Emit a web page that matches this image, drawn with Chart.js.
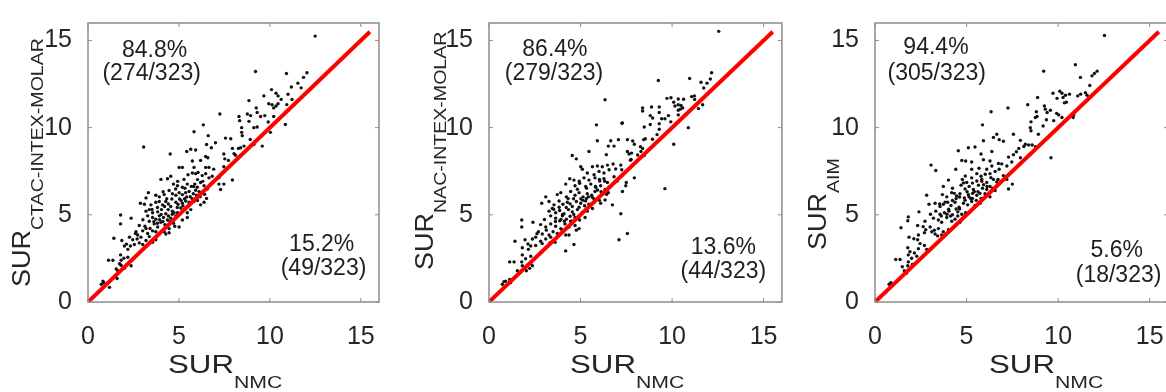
<!DOCTYPE html>
<html>
<head>
<meta charset="utf-8">
<script src="https://cdn.jsdelivr.net/npm/chart.js@4.4.1/dist/chart.umd.min.js"></script>
<style>
  body { margin: 0; background: #fff; width: 1166px; height: 392px; overflow: hidden; position: relative; }
  canvas { position: absolute; top: 0; }
</style>
</head>
<body>
<canvas id="c1" width="390" height="392" style="left:0px"></canvas>
<canvas id="c2" width="395" height="392" style="left:395px"></canvas>
<canvas id="c3" width="400" height="392" style="left:780px"></canvas>
<script>
// axes (SUR values), shared by the three panels
const axisMin = 0
const axisMax = 16
const tickValues = [0, 5, 10, 15]
const identityLine = [0, 15.5]

// SUR_CTAC-INTEX-MOLAR vs SUR_NMC  [x, y]
const ctacPoints = [
  [0.73,1.02],[0.82,1.20],[0.87,1.11],[1.18,0.84],[1.49,1.48],[1.60,1.35],[1.55,1.89],[1.64,1.79],[2.00,1.93],
  [1.13,2.39],[1.37,2.39],[1.73,2.20],[1.82,2.11],[2.15,2.15],[2.37,2.08],[1.79,2.70],[1.97,2.51],[2.19,2.57],
  [1.82,2.39],[2.00,3.21],[2.19,3.02],[2.33,3.21],[2.55,3.30],[2.82,3.39],[3.01,3.30],[3.55,3.42],[1.42,3.66],
  [1.86,3.53],[2.28,3.72],[2.46,3.57],[2.70,3.61],[2.91,3.72],[3.19,3.53],[3.37,3.75],[3.55,3.48],[3.73,3.57],
  [4.28,3.90],[2.64,4.03],[2.73,3.84],[3.01,4.08],[3.19,4.21],[3.28,3.93],[3.55,4.08],[3.73,4.03],[3.92,3.90],
  [4.19,4.03],[4.46,3.97],[1.79,4.99],[1.79,4.48],[2.37,4.81],[2.82,4.39],[3.13,4.34],[3.37,4.63],[3.64,4.48],
  [3.83,4.30],[4.01,4.57],[4.23,4.44],[4.46,4.21],[4.77,4.34],[5.01,4.30],[3.28,4.94],[3.55,4.85],[3.73,4.75],
  [3.92,4.94],[4.15,4.85],[4.37,4.70],[4.55,4.81],[4.70,4.52],[4.83,4.94],[5.19,4.70],[5.46,4.85],[3.19,5.21],
  [3.37,5.30],[3.55,5.12],[3.83,5.17],[4.04,5.30],[4.28,5.06],[4.41,5.30],[4.64,5.21],[4.92,5.12],[5.10,5.39],
  [5.46,5.12],[5.65,5.30],[2.88,5.66],[3.10,5.61],[3.46,5.57],[3.73,5.72],[3.92,5.76],[4.10,5.57],[4.28,5.76],
  [4.55,5.48],[4.83,5.72],[4.95,5.61],[5.19,5.66],[5.37,5.79],[5.56,5.72],[5.83,5.76],[6.19,5.57],[6.38,5.72],
  [3.32,6.27],[3.19,5.97],[3.73,6.12],[3.92,6.03],[4.19,6.16],[4.46,6.39],[4.64,6.21],[4.83,6.12],[5.01,6.27],
  [5.19,6.16],[5.37,6.27],[5.56,6.34],[5.79,6.21],[5.97,6.12],[6.16,6.03],[6.28,6.30],[6.52,5.94],[4.70,6.76],
  [4.92,6.67],[5.19,6.58],[5.46,6.76],[5.68,6.63],[5.87,6.76],[6.01,6.58],[6.19,6.85],[6.38,6.67],[6.56,6.48],
  [7.20,6.76],[7.47,6.76],[7.29,6.45],[4.55,7.21],[4.37,7.07],[4.01,7.03],[5.28,7.03],[5.50,7.30],[5.74,7.40],
  [5.92,7.36],[6.05,7.43],[6.28,7.25],[6.47,7.36],[6.65,7.12],[6.83,7.21],[7.20,7.12],[5.01,7.72],[5.19,7.72],
  [5.83,7.72],[6.47,7.72],[6.65,7.72],[7.47,7.76],[5.74,8.09],[6.19,8.12],[6.47,8.34],[6.59,8.27],[4.52,8.49],
  [5.43,8.63],[5.65,8.76],[5.92,8.72],[7.47,8.49],[7.52,8.21],[6.52,9.03],[6.78,8.85],[7.01,9.13],[7.56,9.40],
  [6.61,9.54],[3.06,8.89],[5.83,9.76],[6.34,10.16],
  [12.49,15.25],[9.21,13.22],[10.91,13.10],[12.04,13.15],[11.85,12.88],[11.54,12.55],[11.18,12.33],[10.09,12.18],
  [10.34,11.97],[11.00,11.91],[10.45,11.82],[9.67,11.82],[8.85,11.55],[9.94,11.37],[10.12,11.31],[10.34,11.24],
  [10.45,11.37],[10.21,11.13],[9.25,11.13],[7.25,10.78],[8.76,10.78],[8.94,10.69],[9.30,10.87],[9.49,10.64],
  [9.72,10.69],[8.30,10.64],[8.34,10.40],[8.85,10.36],[10.21,10.64],[10.85,10.18],[9.12,10.00],[9.30,10.04],
  [8.45,10.00],[10.03,9.73],[8.45,9.73],[8.48,9.54],[7.85,9.36],[9.58,8.94],[8.27,8.81],[8.39,8.85],[8.58,8.94],
  [7.94,8.81],[8.03,8.51],[7.94,7.00],
  [4.02,5.02],[4.21,5.48],[4.61,5.91],[5.31,5.92],[5.62,6.04],[5.92,6.41],[6.11,6.33],[4.42,4.93],[4.91,5.42],
  [5.22,5.51],[3.62,4.61],[3.94,4.72],[4.63,5.03],[5.52,5.53],[5.81,6.62],[6.31,6.92],[6.72,6.73],[5.33,6.52],
  [4.82,6.48],[4.33,5.92],[3.52,5.31],[3.02,4.72],[2.61,3.93],[2.12,3.32],[5.03,5.91],[6.02,7.02],[6.91,7.62],
  [7.72,8.12],[8.11,8.42],[8.92,9.32],[9.12,9.03],[9.91,10.32],[10.62,11.62],[10.93,11.32],[11.22,11.61],
  [11.72,12.28],[3.41,4.22],[3.82,4.52],[4.12,4.62],[4.52,4.62],[4.73,5.12],[5.12,5.82],[5.42,6.02],[5.73,5.92],
  [6.02,5.82],[4.42,5.62],[3.82,5.42],[4.13,6.32],[4.93,6.92],[6.41,6.18]
]

// SUR_NAC-INTEX-MOLAR vs SUR_NMC  [x, y]
const nacPoints = [
  [5.87,10.16],[7.29,10.27],[5.92,9.25],[6.52,8.94],[6.83,8.94],[7.07,9.31],[6.65,9.25],[7.56,9.31],[4.55,8.40],
  [4.77,8.21],[5.46,8.63],[6.41,8.45],[7.56,8.63],[7.65,8.49],[5.01,7.76],[5.10,7.61],[5.65,7.76],[5.92,7.80],
  [6.19,7.76],[6.47,7.85],[6.78,7.91],[7.20,7.85],[7.25,7.58],[5.37,7.40],[5.74,7.30],[6.01,7.49],[6.28,7.40],
  [6.56,7.58],[4.41,7.07],[4.64,6.99],[5.19,7.12],[5.46,6.99],[5.79,7.12],[6.05,6.94],[6.28,7.07],[6.47,6.85],
  [6.83,7.18],[7.01,6.94],[4.19,6.76],[4.70,6.67],[4.95,6.81],[5.28,6.63],[5.56,6.76],[5.83,6.58],[6.10,6.67],
  [6.34,6.45],[6.56,6.58],[7.47,6.67],[7.50,6.85],[3.10,6.03],[3.73,6.16],[3.92,6.27],[4.23,6.03],[4.46,6.34],
  [4.70,6.12],[4.92,6.27],[5.14,6.03],[5.37,6.21],[5.61,6.12],[5.79,6.34],[6.01,6.03],[6.23,6.21],[6.52,6.27],
  [2.88,5.66],[3.28,5.76],[3.55,5.57],[3.83,5.79],[4.04,5.61],[4.28,5.72],[4.55,5.48],[4.77,5.76],[5.01,5.66],
  [5.28,5.79],[5.46,5.61],[5.74,5.72],[6.10,5.66],[6.34,5.85],[6.74,5.57],[7.29,6.34],[3.28,5.21],[3.46,5.36],
  [3.64,5.12],[3.86,5.25],[4.10,5.06],[4.34,5.30],[4.55,5.17],[4.83,5.30],[5.10,5.12],[5.37,5.21],[5.65,5.36],
  [7.20,5.06],[3.37,4.94],[3.64,4.81],[3.86,4.66],[4.01,4.94],[4.23,4.75],[4.46,4.63],[4.70,4.85],[4.95,4.70],
  [5.25,4.85],[1.79,4.70],[1.79,4.30],[2.40,4.57],[2.82,4.44],[3.10,4.30],[3.37,4.48],[3.64,4.34],[3.92,4.21],
  [4.15,4.48],[4.37,4.30],[4.70,4.39],[4.92,4.21],[2.70,4.03],[2.91,3.90],[3.13,4.12],[3.28,3.84],[3.50,4.03],
  [3.73,3.93],[4.01,4.12],[4.37,3.84],[4.77,4.12],[1.42,3.48],[1.97,3.57],[2.37,3.61],[2.55,3.72],[2.82,3.48],
  [3.10,3.61],[3.37,3.72],[3.61,3.42],[4.19,3.84],[4.64,3.30],[7.10,3.57],[7.56,3.93],[1.82,3.11],[2.15,3.02],
  [2.28,3.21],[2.55,3.24],[2.91,3.35],[3.32,3.39],[4.19,2.93],[1.82,2.70],[2.00,2.48],[2.28,2.62],[1.79,2.30],
  [1.13,2.30],[1.37,2.30],[1.82,2.08],[2.28,2.20],[2.37,2.08],[1.55,1.79],[2.04,1.79],[2.22,1.93],[1.13,1.29],
  [0.91,1.20],[0.82,1.17],[1.18,1.11],[0.73,1.02],
  [12.55,15.52],[9.25,12.70],[10.96,12.82],[12.16,13.15],[11.58,12.60],[11.91,12.55],[12.09,12.79],[11.07,11.78],
  [11.22,11.82],[9.72,11.68],[9.94,11.71],[10.34,11.64],[8.39,11.13],[8.39,10.95],[8.88,11.18],[9.30,11.18],
  [10.09,11.46],[10.16,11.24],[10.34,11.31],[10.49,11.27],[10.58,11.13],[10.45,11.06],[8.81,10.69],[8.94,10.55],
  [9.30,10.87],[9.43,10.51],[9.61,10.51],[9.80,10.69],[10.34,10.73],[10.34,11.00],[11.44,11.09],[11.67,11.31],
  [10.89,10.00],[7.26,10.25],[8.48,10.04],[8.81,10.18],[9.30,10.22],[9.30,9.91],[9.18,9.60],[8.54,9.36],
  [8.45,9.31],[6.34,11.60],[7.94,9.05],[8.27,8.91],[8.39,8.81],[7.85,9.23],[7.79,8.54],[8.30,8.63],[8.48,8.40],
  [7.76,8.18],[10.09,9.05],[7.94,7.12],[9.61,6.50],
  [4.02,5.02],[4.22,5.42],[4.62,5.92],[5.32,5.93],[5.63,6.02],[5.93,6.42],[6.12,6.32],[4.43,4.92],[4.92,5.43],
  [5.22,5.52],[3.63,4.62],[3.93,4.73],[4.63,5.02],[5.53,5.52],[5.82,6.63],[6.32,6.93],[6.73,6.72],[5.33,6.53],
  [4.83,6.47],[4.32,5.93],[3.53,5.32],[3.03,4.73],[2.62,3.92],[2.13,3.33],[5.02,5.92],[6.03,7.03],[6.92,7.63],
  [7.73,8.13],[8.12,8.43],[8.93,9.33],[9.93,10.33],[10.63,11.63],[11.23,11.62],[11.73,12.27],[4.12,4.63],
  [4.53,4.63],[5.13,5.83],[5.43,6.03],[5.72,5.93],[6.03,5.83],[4.43,5.63],[3.83,5.43],[4.93,6.93],[6.42,6.17]
]

// SUR_AIM vs SUR_NMC  [x, y]
const aimPoints = [
  [5.87,10.16],[6.65,9.62],[6.47,9.44],[6.78,9.31],[7.01,9.22],[7.56,9.62],[5.92,9.25],[5.46,8.89],[5.10,8.85],
  [4.55,8.67],[5.79,8.49],[6.38,8.63],[7.56,8.45],[3.06,7.85],[3.32,7.54],[4.74,8.12],[4.95,8.09],[5.28,8.03],
  [5.92,8.16],[6.28,8.09],[7.29,8.31],[7.47,8.03],[6.74,7.94],[4.41,7.61],[5.28,7.61],[5.68,7.67],[6.10,7.61],
  [6.38,7.80],[6.78,7.61],[7.20,7.80],[7.50,6.76],[5.56,7.36],[5.79,7.21],[6.28,7.36],[6.56,7.49],[7.01,7.25],
  [4.01,6.99],[4.77,7.03],[5.01,6.85],[5.28,7.12],[5.56,6.94],[5.83,7.03],[6.10,6.85],[6.47,7.03],[6.65,6.88],
  [7.20,7.03],[3.73,6.63],[4.23,6.52],[4.70,6.70],[4.92,6.48],[5.14,6.63],[5.37,6.45],[5.65,6.70],[5.87,6.52],
  [6.10,6.45],[6.28,6.63],[6.56,6.39],[7.29,6.48],[2.82,6.12],[2.95,5.61],[3.68,6.16],[3.92,6.03],[4.19,6.27],
  [4.46,6.08],[4.64,6.21],[4.88,5.97],[5.10,6.16],[5.32,5.94],[5.56,6.12],[5.79,5.94],[6.01,6.21],[6.28,6.03],
  [3.28,5.66],[3.55,5.48],[3.73,5.61],[3.97,5.72],[4.15,5.53],[4.37,5.72],[4.59,5.43],[4.83,5.66],[5.06,5.57],
  [5.28,5.76],[5.46,5.53],[5.74,5.66],[2.40,5.17],[3.32,5.21],[3.55,5.03],[3.79,5.12],[4.04,5.21],[4.23,5.00],
  [4.52,5.17],[4.74,5.03],[4.95,5.12],[5.19,5.17],[1.82,4.88],[1.79,4.66],[2.73,4.63],[3.19,4.81],[3.46,4.70],
  [3.64,4.57],[3.92,4.85],[4.19,4.63],[4.37,4.75],[4.64,4.57],[1.42,4.26],[2.33,4.39],[2.77,4.15],[3.01,4.30],
  [3.24,4.12],[3.46,4.21],[3.73,4.03],[4.01,4.15],[1.86,3.72],[2.37,3.84],[2.70,3.97],[3.10,4.03],[3.28,3.90],
  [3.42,3.79],[3.64,3.84],[2.33,3.57],[2.46,3.35],[2.37,3.06],[2.70,3.24],[2.82,3.02],[1.79,3.11],[1.91,2.88],
  [1.82,2.70],[2.15,2.81],[2.00,2.51],[2.28,2.62],[1.13,2.44],[1.37,2.44],[1.82,2.30],[1.79,2.08],[2.04,2.15],
  [1.49,2.02],[1.60,1.79],[1.73,1.66],[1.18,1.17],[0.87,1.11],[0.77,1.02],[0.82,0.84],
  [12.53,15.28],[9.21,13.24],[10.94,13.61],[11.22,12.88],[11.85,12.97],[12.13,13.24],[11.98,13.10],[11.49,12.00],
  [11.58,11.86],[9.72,11.97],[10.09,12.09],[10.21,11.97],[10.40,11.86],[10.27,11.73],[10.45,11.46],[10.34,11.42],
  [11.07,11.82],[9.94,11.68],[8.88,11.73],[8.34,11.31],[9.25,11.24],[9.30,11.06],[9.58,11.00],[9.40,10.87],
  [8.81,10.91],[8.85,10.64],[8.76,10.58],[9.36,10.45],[9.18,10.09],[10.03,10.73],[10.21,10.58],[10.82,10.58],
  [10.85,10.73],[9.76,10.40],[8.52,10.33],[8.48,10.00],[8.52,9.82],[7.26,11.13],[6.34,10.91],[7.94,9.27],
  [8.21,9.05],[8.39,9.00],[8.58,9.00],[8.76,8.91],[9.61,8.27],[7.85,8.81],[7.94,8.27],
  [4.02,5.32],[4.23,5.82],[4.62,6.02],[5.33,6.23],[5.62,6.33],[5.93,6.73],[6.12,6.62],[4.43,5.33],[4.92,5.83],
  [5.23,5.92],[3.62,4.93],[3.93,5.03],[4.62,5.33],[5.53,5.83],[5.83,6.92],[6.33,7.13],[6.72,7.03],[5.32,6.82],
  [4.83,6.83],[4.33,6.23],[3.53,5.62],[3.03,5.03],[2.63,4.32],[2.12,3.63],[5.03,6.32],[6.02,7.33],[6.92,7.92],
  [7.72,8.62],[8.13,8.92],[8.92,9.62],[9.92,10.82],[10.62,11.92],[11.23,11.92],[11.73,12.42],[4.13,4.93],
  [4.52,4.93],[5.13,6.03],[5.43,6.33],[5.73,6.23],[6.03,6.13],[4.43,5.93],[3.83,5.73],[4.93,7.23],[6.42,6.53]
]

const yLabelSubs = ['CTAC-INTEX-MOLAR', 'NAC-INTEX-MOLAR', 'AIM']
const xLabelSub = 'NMC'
const abovePct = ['84.8%', '86.4%', '94.4%']
const aboveCount = ['(274/323)', '(279/323)', '(305/323)']
const belowPct = ['15.2%', '13.6%', '5.6%']
const belowCount = ['(49/323)', '(44/323)', '(18/323)']

const FONT = '"Liberation Sans", Arial, sans-serif'

// layout of each panel (canvas px) and where the texts sit (data units)
const panels = [
  { id: 'c1', points: ctacPoints, left: 88, right: 11, xTitleDx: 80, yTitleDx: -58, yTitleBottom: 287,
    upper: [[3.66, 14.4], [3.5, 13.1]], lower: [[12.85, 3.3], [12.95, 1.9]] },
  { id: 'c2', points: nacPoints, left: 94, right: 8, xTitleDx: 81, yTitleDx: -56, yTitleBottom: 270,
    upper: [[3.6, 14.5], [3.55, 13.1]], lower: [[12.8, 3.1], [12.8, 1.75]] },
  { id: 'c3', points: aimPoints, left: 95, right: 12, xTitleDx: 114, yTitleDx: -49, yTitleBottom: 250,
    upper: [[3.33, 14.6], [3.37, 13.1]], lower: [[13.2, 2.95], [13.3, 1.5]] }
]

// text is a bit wider in the figure than in Arial, so stretch it
function wideText(ctx, text, x, y, sx) {
  ctx.save()
  ctx.translate(x, y)
  ctx.scale(sx, 1)
  ctx.fillText(text, 0, 0)
  ctx.restore()
  return ctx.measureText(text).width * sx
}

const boxPlugin = {
  id: 'box',
  afterDraw(chart, args, opts) {
    const ctx = chart.ctx
    const a = chart.chartArea
    const xs = chart.scales.x, ys = chart.scales.y
    ctx.save()
    ctx.strokeStyle = '#8c8c8c'
    ctx.lineWidth = 1.5
    ctx.strokeRect(a.left, a.top, a.right - a.left, a.bottom - a.top)
    ctx.lineWidth = 1
    ctx.beginPath()
    tickValues.forEach(v => {
      const px = xs.getPixelForValue(v), py = ys.getPixelForValue(v)
      ctx.moveTo(px, a.bottom); ctx.lineTo(px, a.bottom - 4)
      ctx.moveTo(px, a.top); ctx.lineTo(px, a.top + 4)
      ctx.moveTo(a.left, py); ctx.lineTo(a.left + 4, py)
      ctx.moveTo(a.right, py); ctx.lineTo(a.right - 4, py)
    })
    ctx.stroke()

    const p = opts.panel
    const i = opts.index
    ctx.fillStyle = '#1e1e1e'
    ctx.textAlign = 'center'
    ctx.textBaseline = 'middle'
    ctx.font = '23px ' + FONT
    ctx.fillText(abovePct[i], xs.getPixelForValue(p.upper[0][0]), ys.getPixelForValue(p.upper[0][1]))
    ctx.fillText(aboveCount[i], xs.getPixelForValue(p.upper[1][0]), ys.getPixelForValue(p.upper[1][1]))
    ctx.fillText(belowPct[i], xs.getPixelForValue(p.lower[0][0]), ys.getPixelForValue(p.lower[0][1]))
    ctx.fillText(belowCount[i], xs.getPixelForValue(p.lower[1][0]), ys.getPixelForValue(p.lower[1][1]))

    // axis titles with subscripts
    ctx.fillStyle = '#262626'
    ctx.textAlign = 'left'
    ctx.textBaseline = 'alphabetic'
    ctx.font = '25px ' + FONT
    let w = wideText(ctx, 'SUR', a.left + p.xTitleDx, 373, 1.25)
    ctx.font = '17px ' + FONT
    wideText(ctx, xLabelSub, a.left + p.xTitleDx + w, 388, 1.25)

    ctx.translate(a.left + p.yTitleDx, p.yTitleBottom)
    ctx.rotate(-Math.PI / 2)
    ctx.font = '25px ' + FONT
    w = wideText(ctx, 'SUR', 0, 0, 1.08)
    ctx.font = '17px ' + FONT
    wideText(ctx, yLabelSubs[i], w, 13, 1.15)
    ctx.restore()
  }
}

panels.forEach((p, i) => {
  const axis = (horizontal) => ({
    type: 'linear',
    min: axisMin,
    max: axisMax,
    grid: { display: false },
    border: { display: false },
    afterBuildTicks: s => { s.ticks = tickValues.map(v => ({ value: v })) },
    afterFit: s => { if (horizontal) s.height = 90; else s.width = p.left },
    ticks: {
      color: '#262626',
      font: { family: FONT, size: 25 },
      padding: horizontal ? 12 : 8,
      maxRotation: 0,
      autoSkip: false
    }
  })
  new Chart(document.getElementById(p.id), {
    type: 'scatter',
    data: {
      datasets: [
        {
          type: 'line',
          data: identityLine.map(v => ({ x: v, y: v })),
          borderColor: '#ff0000',
          borderWidth: 4,
          pointRadius: 0,
          order: 0
        },
        {
          data: p.points.map(d => ({ x: d[0], y: d[1] })),
          backgroundColor: '#111',
          borderWidth: 0,
          pointRadius: 1.7,
          order: 1
        }
      ]
    },
    options: {
      responsive: false,
      animation: false,
      layout: { padding: { top: 9, right: p.right, left: 0, bottom: 0 } },
      plugins: {
        legend: { display: false },
        tooltip: { enabled: false },
        box: { panel: p, index: i }
      },
      scales: { x: axis(true), y: axis(false) }
    },
    plugins: [boxPlugin]
  })
})
</script>
</body>
</html>
